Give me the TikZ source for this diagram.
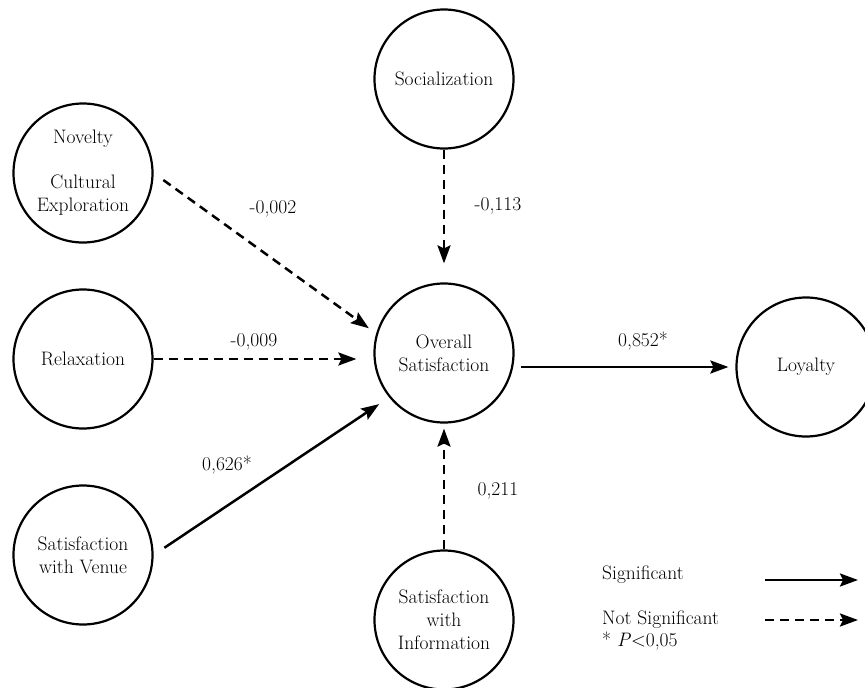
\documentclass[tikz,border=0pt]{standalone}
\usetikzlibrary{arrows.meta}
\begin{document}
\begin{tikzpicture}[x=1pt,y=-1pt,
  txt/.style={font=\fontsize{19.5}{23}\selectfont, align=center, inner sep=0pt},
  construct/.style={circle, draw, line width=2.2pt, minimum size=139pt, inner sep=0pt, txt},
  lbl/.style={txt},
  sig/.style={line width=2.5pt, -{Stealth[length=18pt,width=13pt,inset=3pt]}},
  nsig/.style={sig, dash pattern=on 9pt off 6pt}]
\useasboundingbox (0,0) rectangle (865,688);
\clip (0,0) rectangle (865,688);
% constructs
\node[construct] (soc) at (444,79) {Socialization};
\node[construct] (nov) at (83,173) {Novelty\\[22pt]Cultural\\Exploration};
\node[construct] (rel) at (83,359) {Relaxation};
\node[construct] (ven) at (83,555) {Satisfaction\\with Venue};
\node[construct] (ov) at (444,353) {Overall\\Satisfaction};
\node[construct] (info) at (444,620) {Satisfaction\\with\\Information};
\node[construct] (loy) at (806,367) {Loyalty};
% paths
\draw[nsig, shorten <=12pt, shorten >=9pt] (nov.east) -- (ov.164);
\draw[nsig, shorten >=17pt] (rel.east) -- (rel.east -| ov.west);
\draw[sig, shorten <=13pt, shorten >=12pt] (ven.0) -- (ov.219);
\draw[nsig, shorten >=19pt] (soc.south) -- (ov.north);
\draw[nsig, shorten >=5pt] (info.north) -- (ov.south);
\draw[sig, shorten <=6pt, shorten >=7pt] (ov.east |- loy.west) -- (loy.west);
% labels
\node[lbl] (l1) at (273,209) {-0,002};
\node[lbl] (l2) at (498,206) {-0,113};
\node[lbl] (l3) at (254,342) {-0,009};
\node[lbl] (l4) at (227,465) {0,626*};
\node[lbl] (l5) at (498,491) {0,211};
\node[lbl] (l6) at (643,341) {0,852*};
% legend
\node[txt, anchor=west] (lg1) at (602,575) {Significant};
\node[txt, anchor=west, align=left, font=\fontsize{19.5}{22}\selectfont] (lg2) at (602,631) {Not Significant\\* \textit{P}<0,05};
\coordinate (a1s) at (765,580);
\coordinate (a1e) at (858,580);
\coordinate (a2s) at (765,620);
\coordinate (a2e) at (858,620);
\draw[sig] (a1s) -- (a1e);
\draw[nsig] (a2s) -- (a2e);
\end{tikzpicture}
\end{document}
